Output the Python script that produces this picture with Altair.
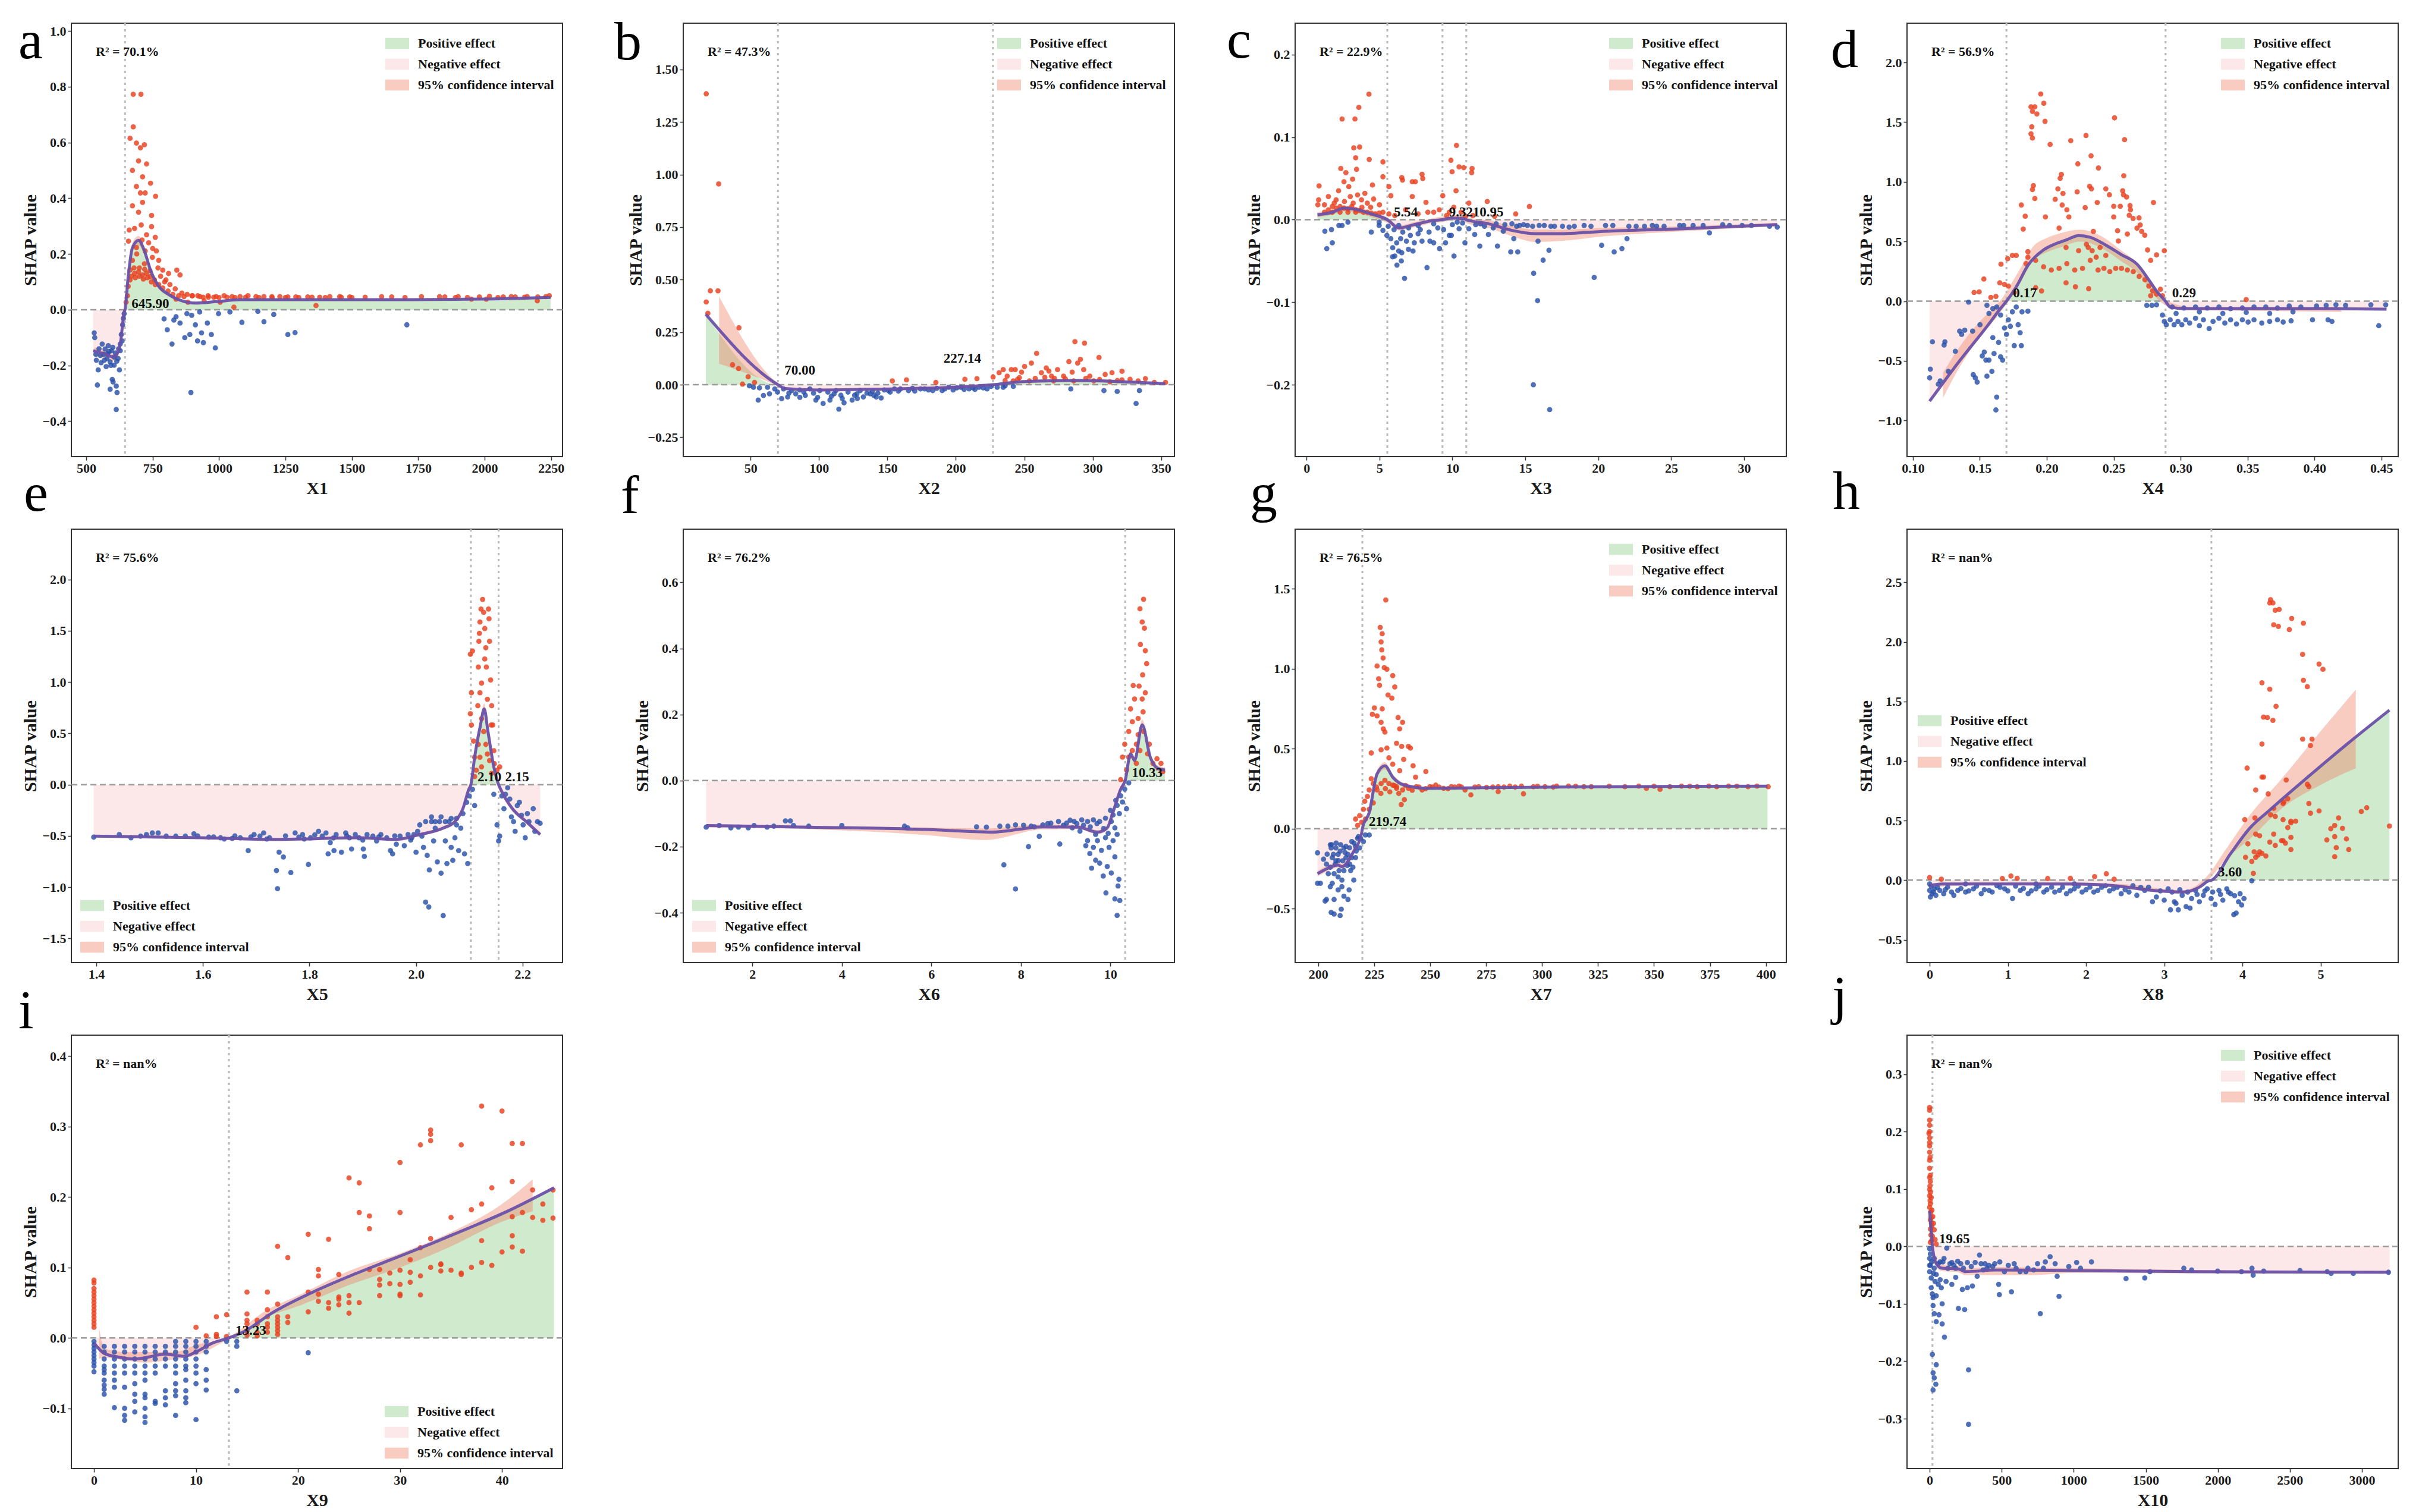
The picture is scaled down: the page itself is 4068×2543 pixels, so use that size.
import altair as alt
import pandas as pd

# ------------------------------------------------------------------ data
A_PTS = [(530,-0.083),(538,-0.181),(542,-0.27),(590,-0.285),(598,-0.25),(613,-0.274),(616,-0.297),(613,-0.358),(601,-0.259),(625,-0.216),(628,-0.147),
(560,-0.123),(571,-0.141),(583,-0.129),(580,-0.158),(595,-0.147),(605,-0.17),(553,-0.164),(568,-0.181),(590,-0.187),(605,-0.199),(620,-0.175),(628,-0.123),(632,-0.089),(637,-0.054),(640,-0.031),(643,-0.014),(635,-0.112),(545,-0.216),(575,-0.204),
(548,-0.14),(556,-0.19),(565,-0.16),(578,-0.175),(586,-0.15),(593,-0.2),(600,-0.135),(610,-0.155),(615,-0.185),(622,-0.14),(532,-0.1),(536,-0.16),
(793,-0.033),(805,-0.072),(823,-0.123),(830,-0.037),(838,-0.025),(853,-0.048),(871,-0.1),(890,-0.089),(894,-0.297),(897,-0.02),(911,-0.054),(919,-0.112),(934,-0.083),(941,-0.118),(956,-0.048),(971,-0.089),(986,-0.137),(998,-0.014),(1041,-0.008),(1086,-0.045),(1146,-0.006),(1169,-0.043),(1206,-0.017),(1259,-0.089),(1286,-0.082),(1707,-0.054),(927,-0.008),(879,-0.014),
(677,0.773),(706,0.773),(677,0.656),(665,0.615),(689,0.598),(704,0.581),(719,0.592),(697,0.534),(674,0.5),(712,0.477),(727,0.523),(689,0.442),(704,0.419),(722,0.419),(742,0.454),(761,0.407),(746,0.338),(674,0.373),(697,0.35),(712,0.385),(662,0.286),(682,0.292),(707,0.304),(727,0.269),(746,0.298),(764,0.211),(659,0.246),(689,0.223),(722,0.211),(749,0.188),(773,0.177),(788,0.142),(810,0.13),(841,0.142),(853,0.125),(800,0.107),(674,0.177),(719,0.165),
(665,0.142),(682,0.13),(697,0.136),(712,0.125),(727,0.13),(742,0.119),(757,0.107),(773,0.09),(788,0.078),(808,0.067),(826,0.055),(848,0.05),(658,0.084),(655,0.05),(650,0.027),(665,0.107),
(670,0.12),(685,0.115),(700,0.12),(715,0.11),(730,0.115),(745,0.1),(760,0.09),(680,0.15),(700,0.15),(720,0.145),(740,0.14),(690,0.2),(710,0.25),(735,0.24),(750,0.22),(760,0.26),(770,0.15),(780,0.12),(795,0.1),(815,0.09),(835,0.075),(860,0.06),(880,0.055),
(868,0.047),(898,0.05),(928,0.047),(959,0.05),(989,0.047),(1019,0.05),(1049,0.047),(1079,0.047),(1109,0.05),(1139,0.047),(1169,0.047),(1199,0.047),(1229,0.047),(1259,0.046),(1289,0.046),(1334,0.046),(1379,0.045),(1417,0.047),(1454,0.047),(1492,0.046),(1612,0.047),(1762,0.047),(1830,0.047),(1890,0.044),(1935,0.044),(1980,0.046),(2018,0.048),(2070,0.046),(2115,0.046),(2160,0.047),(2198,0.032),(2243,0.05),(2006,0.038),(1950,0.038),(1365,0.015),(1056,0.009),(1004,0.027),(944,0.032),(883,0.027),(838,0.038),
(900,0.05),(920,0.05),(940,0.045),(960,0.045),(980,0.045),(1000,0.044),(1030,0.045),(1060,0.044),(1100,0.045),(1150,0.044),(1200,0.043),(1250,0.044),(1300,0.044),(1350,0.045),(1400,0.044),(1460,0.045),(1500,0.044),(1550,0.045),(1650,0.046),(1700,0.044),(1850,0.046),(1900,0.047),(2050,0.044),(2100,0.047),(2150,0.045),(2200,0.046),(2230,0.047)]
A_LX = [526,568,605,628,643,645.9,658,674,697,719,742,773,810,860,911,989,1079,1229,1680,1980,2248]
A_LY = [-0.147,-0.158,-0.17,-0.123,-0.008,0,0.119,0.223,0.249,0.211,0.142,0.084,0.055,0.032,0.024,0.029,0.036,0.036,0.036,0.038,0.044]
A_CX = [530,568,605,628,645.9,658,674,697,719,742,773,810,860,911,989,1079,1229,1680,1980,2248]
A_CLO = [-0.165,-0.175,-0.185,-0.14,-0.01,0.105,0.205,0.23,0.195,0.13,0.075,0.048,0.027,0.02,0.025,0.032,0.033,0.033,0.034,0.039]
A_CHI = [-0.135,-0.145,-0.158,-0.11,0.01,0.13,0.24,0.265,0.225,0.155,0.093,0.062,0.037,0.029,0.033,0.04,0.04,0.04,0.042,0.049]

B_PTS = [(17.6,1.384),(26.7,0.955),(17.6,0.394),(20.6,0.447),(26.2,0.447),(18.8,0.34),(41.5,0.271),(36.8,0.095),(41.2,0.077),(48.2,0.038),(44.1,0.003),(52.9,0.011),
(49.1,-0.005),(52.1,-0.012),(55.6,-0.073),(59.4,-0.051),(63.8,-0.043),(67.7,-0.02),(69.7,-0.035),(72.7,-0.066),(77.1,-0.058),(83,-0.043),(88.9,-0.035),(93.3,-0.02),(97.7,-0.073),(103,-0.089),(108,-0.073),(111,-0.043),(114.5,-0.116),(118.3,-0.086),(124.2,-0.073),(127.7,-0.043),(132.4,-0.058),(137.4,-0.043),(141.8,-0.058),(145.4,-0.063),(150.7,-0.028),(155.1,-0.02),(165.4,-0.028),(174.2,-0.02),(183.1,-0.028),(191.9,-0.02),(200.7,-0.015),(209.6,-0.02),(216.9,-0.012),(222.8,-0.02),(230.2,-0.012),(234.6,-0.012),(284,-0.02),(308.2,-0.028),(317.9,-0.032),(331.7,-0.089),(334.1,-0.028),
(56.5,-0.015),(62.4,-0.012),(74.1,-0.02),(80,-0.028),(85.9,-0.025),(100.6,-0.028),(106.5,-0.035),(112.4,-0.028),(121.2,-0.035),(130.1,-0.028),(138.9,-0.032),(147.7,-0.025),(159.5,-0.02),(168.3,-0.017),(177.2,-0.02),(186,-0.017),(194.8,-0.012),(203.7,-0.012),(212.5,-0.015),(225.7,-0.008),
(90,-0.05),(96,-0.04),(116,-0.05),(126,-0.05),(135,-0.04),(143,-0.04),(152,-0.035),(158,-0.03),(170,-0.03),(180,-0.025),(190,-0.028),(198,-0.025),(206,-0.022),(214,-0.022),(220,-0.015),(78,-0.04),(86,-0.06),(99,-0.06),(109,-0.055),(117,-0.065),(128,-0.065),(140,-0.05),(236,-0.005),(242,-0.008),
(153.6,0.018),(163.9,0.023),(185.4,0.011),(206.6,0.026),(215.4,0.029),(227.2,0.037),(231.6,0.057),(234.6,0.072),(237.5,0.041),(240.5,0.072),(243.4,0.072),(246.4,0.034),(250.2,0.087),(255.2,0.103),(259,0.149),(262.5,0.057),(266.1,0.08),(269.9,0.041),(274.3,0.072),(278.7,0.041),(282.6,0.11),(287,0.205),(289,0.103),(291,0.121),(294,0.198),(293.4,0.072),(297.9,0.041),(304.6,0.13),(309.1,0.049),(314.1,0.057),(321.4,0.064),(327.3,0.026),(333.2,0.018),(338.5,0.029),(353.2,0.011),(241.9,0.018),(253.7,0.018),(271.4,0.018),(286.1,0.018),(300.8,0.018),(312.6,0.014),(321.4,0.023),(345,0.011),
(236,0.02),(245,0.025),(258,0.03),(265,0.035),(272,0.03),(280,0.028),(295,0.03),(305,0.025),(318,0.02),(248,0.06),(268,0.065),(285,0.06)]
B_LX = [17.3,70,75,100,150,200,227.14,250,290,330,353]
B_LY = [0.335,0,-0.018,-0.025,-0.02,-0.012,0,0.015,0.02,0.012,0.005]
B_CX = [27,70,75,100,150,200,227.14,250,290,330,353]
B_CLO = [0.10,-0.008,-0.024,-0.03,-0.025,-0.017,-0.005,0.008,0.012,0.005,0.0]
B_CHI = [0.42,0.008,-0.012,-0.02,-0.015,-0.007,0.005,0.022,0.028,0.02,0.01]

C_PTS = [(0.86,0.041),(0.83,0.024),(0.78,0.018),(2.44,0.122),(3.32,0.122),(3.59,0.136),(4.28,0.152),(3.24,0.087),(3.64,0.088),(3.37,0.075),(4.3,0.073),(2.35,0.062),(2.7,0.057),(3.43,0.061),(2.57,0.046),(3.16,0.049),(5.24,0.07),(5.24,0.052),(4.52,0.042),(5.65,0.04),(5.78,0.029),(6.53,0.051),(6.58,0.048),(7.25,0.046),(7.46,0.046),(7.92,0.055),(7.97,0.05),(7.25,0.028),(8.19,0.021),(9.9,0.072),(9.98,0.058),(10.28,0.09),(10.46,0.064),(10.78,0.063),(11.35,0.062),(11.32,0.057),(10.25,0.035),(9.34,0.029),(11.13,0.02),(12.39,0.022),(14.34,0.007),(15.28,0.016),(12.9,0.004),
(1.5,0.012),(1.77,0.016),(2.03,0.014),(2.3,0.016),(2.57,0.014),(2.84,0.013),(3.1,0.016),(3.37,0.012),(3.64,0.011),(3.9,0.009),(4.17,0.009),(4.44,0.008),(4.71,0.007),(4.98,0.008),(5.24,0.009),(5.65,0.007),(6.05,0.005),(1.23,0.009),(1.77,0.009),(2.3,0.009),(2.84,0.009),(3.37,0.009),(2.03,0.024),(3.0,0.028),(3.77,0.024),(4.17,0.02),(1.5,0.028),(1.23,0.018),(7.65,0.007),(8.32,0.009),(8.72,0.009),(9.79,0.009),(10.6,0.009),(11.4,0.005),
(2.2,0.035),(2.9,0.04),(3.5,0.03),(4.0,0.032),(4.6,0.025),(1.9,0.02),(2.6,0.022),(3.2,0.02),(3.8,0.015),(4.4,0.015),(5.0,0.018),(6.8,0.012),(9.1,0.012),(10.1,0.015),(9.6,0.005),(10.9,0.004),
(1.26,-0.014),(1.39,-0.035),(1.71,-0.012),(1.77,-0.028),(2.22,-0.007),(2.44,-0.007),(2.84,-0.003),(4.44,-0.015),(4.98,-0.007),(5.24,-0.013),(5.51,-0.019),(5.78,-0.023),(5.91,-0.034),(6.05,-0.044),(6.18,-0.028),(6.32,-0.038),(6.45,-0.023),(6.53,-0.04),(6.72,-0.071),(6.85,-0.026),(6.99,-0.036),(7.12,-0.019),(7.39,-0.028),(7.65,-0.017),(7.92,-0.026),(8.26,-0.058),(8.46,-0.026),(8.72,-0.028),(9.12,-0.035),(9.53,-0.028),(9.79,-0.019),(9.93,-0.019),(10.11,-0.044),(10.46,-0.011),(10.86,-0.028),(11.13,-0.011),(11.53,-0.018),(11.88,-0.032),(12.47,-0.018),(13.09,-0.032),(13.49,-0.014),(14.0,-0.039),(14.21,-0.023),(14.48,-0.039),(14.61,-0.007),(15.15,-0.007),(15.57,-0.065),(15.55,-0.2),(15.84,-0.098),(15.87,-0.026),(16.22,-0.049),(16.62,-0.037),(16.67,-0.23),(15.95,-0.007),(16.75,-0.008),(17.55,-0.008),(18.36,-0.008),(19.03,-0.007),(19.72,-0.07),(20.23,-0.031),(20.5,-0.007),(21.09,-0.039),(21.62,-0.035),(21.97,-0.023),(22.1,-0.008),(23.17,-0.008),(24.51,-0.008),(25.85,-0.007),(27.19,-0.007),(27.62,-0.016),(28.53,-0.006),(29.86,-0.007),(31.74,-0.008),(32.27,-0.009),(25.58,-0.007),(23.71,-0.007),
(4.98,-0.003),(6.32,-0.007),(7.65,-0.007),(8.72,-0.005),(10.33,-0.003),(11.93,-0.005),(13.0,-0.005),(14.08,-0.005),(14.88,-0.006),
(5.6,-0.008),(6.0,-0.012),(6.6,-0.015),(7.0,-0.01),(7.8,-0.012),(8.4,-0.015),(9.0,-0.01),(9.4,-0.012),(10.0,-0.006),(10.7,-0.004),(11.6,-0.006),(12.2,-0.008),(12.8,-0.01),(13.6,-0.006),(14.4,-0.008),(15.5,-0.008),(16.3,-0.007),(17.0,-0.008),(18.0,-0.009),(19.5,-0.008),(21.0,-0.007),(22.6,-0.008),(24.0,-0.008),(26.5,-0.007),(29.0,-0.007),(30.5,-0.007),(6.2,-0.055),(6.5,-0.05),(7.3,-0.038),(5.9,-0.045)]
C_LX = [0.75,1.77,2.57,3.5,4.44,5.54,6.32,7.39,8.72,9.32,9.93,10.86,10.95,12.47,14.08,15.68,17.29,20.5,25.85,32.27]
C_LY = [0.006,0.009,0.014,0.012,0.007,0,-0.01,-0.006,-0.001,0,0.002,0.001,0,-0.005,-0.013,-0.017,-0.017,-0.014,-0.011,-0.006]
C_CX = C_LX
C_CLO = [0.003,0.006,0.01,0.008,0.003,-0.004,-0.013,-0.009,-0.004,-0.003,-0.001,-0.003,-0.004,-0.01,-0.02,-0.027,-0.026,-0.02,-0.014,-0.008]
C_CHI = [0.009,0.012,0.017,0.015,0.01,0.003,-0.007,-0.003,0.002,0.004,0.006,0.005,0.003,-0.001,-0.008,-0.012,-0.012,-0.01,-0.008,-0.004]

D_PTS = [(0.113,-0.569),(0.1125,-0.642),(0.1146,-0.34),(0.119,-0.695),(0.1204,-0.668),(0.1233,-0.367),(0.1239,-0.34),(0.1265,-0.588),(0.1317,-0.42),(0.1349,-0.251),(0.1364,-0.278),(0.1387,-0.243),(0.1416,-0.008),(0.1446,-0.251),(0.1451,-0.615),(0.1466,-0.642),(0.148,-0.677),(0.1501,-0.197),(0.1518,-0.458),(0.1533,-0.426),(0.1545,-0.493),(0.1553,-0.628),(0.1568,-0.493),(0.159,-0.588),(0.1597,-0.305),(0.1606,-0.439),(0.162,-0.911),(0.1626,-0.803),(0.164,-0.345),(0.1655,-0.466),(0.167,-0.493),(0.1684,-0.224),(0.1699,-0.278),(0.1713,-0.156),(0.1728,-0.21),(0.1743,-0.089),(0.1757,-0.372),(0.1772,-0.049),(0.1786,-0.197),(0.1801,-0.264),(0.181,-0.372),(0.1815,-0.089),(0.1859,-0.084),(0.1553,-0.035),(0.1568,-0.102),(0.1626,-0.049),(0.1655,-0.116),(0.1597,-0.062),
(0.1457,0.073),(0.1495,0.078),(0.153,0.186),(0.1582,0.032),(0.162,0.04),(0.1649,0.154),(0.1658,0.31),(0.1708,0.356),(0.1743,0.383),(0.1772,0.383),(0.1824,0.604),(0.1839,0.712),(0.181,0.806),(0.1684,0.14),(0.1713,0.127),(0.1757,0.073),(0.1859,0.415),(0.1845,0.315),
(0.1955,1.736),(0.1978,1.658),(0.1882,1.628),(0.1911,1.628),(0.1893,1.59),(0.1926,1.569),(0.1987,1.507),(0.1888,1.461),(0.1882,1.402),(0.1893,1.367),(0.2025,1.313),(0.2506,1.536),(0.2581,1.353),(0.2179,1.345),(0.2293,1.388),(0.2331,1.218),(0.2386,1.116),(0.2232,1.151),(0.2109,1.062),(0.21,1.03),(0.19,0.968),(0.1893,0.935),(0.1911,0.86),(0.2083,0.941),(0.2121,0.903),(0.2227,0.916),(0.232,0.962),(0.2334,0.941),(0.2441,0.941),(0.2468,0.892),(0.2567,0.925),(0.2573,0.892),(0.2596,0.873),(0.2575,1.051),(0.2063,0.854),(0.2115,0.806),(0.215,0.766),(0.2165,0.706),(0.2287,0.784),(0.2377,0.827),(0.25,0.795),(0.25,0.706),(0.2549,0.795),(0.2622,0.801),(0.2625,0.766),(0.2616,0.72),(0.2797,0.827),(0.199,0.706),(0.2092,0.612),(0.2348,0.585),(0.2529,0.59),(0.2645,0.693),(0.2689,0.698),(0.2698,0.639),(0.2709,0.585),(0.2602,0.563),(0.2732,0.553),(0.2674,0.612),(0.2535,0.504),(0.2753,0.429),(0.2878,0.423),(0.282,0.388),(0.2776,0.342),
(0.1859,0.369),(0.1917,0.342),(0.1976,0.288),(0.2034,0.261),(0.2092,0.275),(0.215,0.315),(0.2209,0.261),(0.2267,0.275),(0.2325,0.342),(0.2369,0.369),(0.2383,0.261),(0.2427,0.275),(0.2471,0.248),(0.2515,0.275),(0.2558,0.275),(0.2602,0.261),(0.2646,0.248),(0.269,0.208),(0.2733,0.181),(0.2762,0.127),(0.2791,0.086),(0.282,0.059),(0.2849,0.1),(0.2864,0.046),(0.2776,0.046),(0.2144,0.154),(0.2214,0.121),(0.2313,0.105),(0.1917,0.113),(0.1961,0.086),(0.231,0.45),(0.2339,0.423),(0.2398,0.45),(0.2441,0.383),(0.2238,0.423),(0.2296,0.477),(0.2144,0.45),
(0.2747,-0.035),(0.2785,-0.035),(0.282,-0.03),(0.2864,-0.116),(0.2878,-0.17),(0.2893,-0.197),(0.2922,-0.156),(0.2951,-0.197),(0.298,-0.17),(0.3009,-0.197),(0.3038,-0.156),(0.3067,-0.183),(0.3111,-0.143),(0.314,-0.205),(0.317,-0.156),(0.3213,-0.229),(0.3242,-0.17),(0.3286,-0.143),(0.333,-0.183),(0.3373,-0.156),(0.3417,-0.191),(0.3461,-0.156),(0.3504,-0.175),(0.3548,-0.156),(0.3606,-0.183),(0.3665,-0.17),(0.3723,-0.156),(0.3766,-0.175),(0.3825,-0.164),(0.3985,-0.156),(0.4101,-0.156),(0.413,-0.17),(0.448,-0.205),
(0.2937,-0.049),(0.3024,-0.057),(0.3111,-0.049),(0.3199,-0.057),(0.3286,-0.049),(0.3373,-0.062),(0.3461,-0.057),(0.3548,-0.049),(0.3636,-0.049),(0.3723,-0.057),(0.3811,-0.04),(0.3898,-0.049),(0.4015,-0.04),(0.4087,-0.035),(0.416,-0.03),(0.4232,-0.035),(0.4421,-0.03),(0.4532,-0.03),(0.314,-0.089),(0.3315,-0.102),(0.349,-0.094),(0.3665,-0.102),(0.3839,-0.089),(0.2966,-0.102),(0.349,0.013)]
D_LX = [0.1125,0.1335,0.1568,0.1655,0.1699,0.1772,0.1859,0.1976,0.2063,0.215,0.2238,0.2325,0.2441,0.2558,0.2674,0.2762,0.282,0.2887,0.2922,0.3024,0.3432,0.4014,0.4538]
D_LY = [-0.838,-0.52,-0.19,-0.06,0,0.12,0.3,0.43,0.48,0.515,0.55,0.535,0.47,0.39,0.31,0.18,0.085,0,-0.049,-0.062,-0.062,-0.062,-0.067]
D_CX = [0.1225,0.135,0.15,0.165,0.18,0.19,0.2,0.21,0.225,0.24,0.255,0.27,0.28,0.29,0.31,0.35,0.42]
D_CLO = [-0.81,-0.55,-0.30,-0.10,0.15,0.34,0.41,0.45,0.50,0.45,0.34,0.21,0.05,-0.04,-0.075,-0.08,-0.09]
D_CHI = [-0.60,-0.38,-0.17,0.0,0.27,0.46,0.53,0.57,0.60,0.55,0.43,0.29,0.12,0.0,-0.05,-0.05,-0.05]

E_PTS = [(1.395,-0.512),(1.443,-0.487),(1.465,-0.518),(1.483,-0.502),(1.494,-0.487),(1.505,-0.471),(1.516,-0.471),(1.531,-0.502),(1.549,-0.502),(1.567,-0.502),(1.583,-0.48),(1.611,-0.512),(1.633,-0.518),(1.655,-0.524),(1.67,-0.518),(1.685,-0.643),(1.696,-0.487),(1.707,-0.502),(1.714,-0.471),(1.725,-0.518),(1.738,-0.838),(1.74,-1.014),(1.743,-0.659),(1.751,-0.706),(1.765,-0.857),(1.773,-0.471),(1.78,-0.512),(1.787,-0.487),(1.798,-0.778),(1.802,-0.518),(1.817,-0.455),(1.824,-0.502),(1.831,-0.471),(1.835,-0.675),(1.839,-0.565),(1.846,-0.643),(1.85,-0.487),(1.86,-0.659),(1.868,-0.471),(1.875,-0.518),(1.879,-0.628),(1.886,-0.487),(1.893,-0.518),(1.901,-0.628),(1.903,-0.7),(1.908,-0.487),(1.919,-0.502),(1.926,-0.549),(1.934,-0.487),(1.945,-0.518),(1.952,-0.643),(1.956,-0.675),(1.963,-0.581),(1.97,-0.502),(1.978,-0.596),(1.985,-0.487),(1.992,-0.518),(2.0,-0.659),(2.003,-0.455),(2.011,-0.502),(2.014,-0.612),(2.018,-1.146),(2.024,-1.193),(2.021,-0.69),(2.025,-0.832),(2.029,-0.361),(2.033,-0.549),(2.036,-0.424),(2.04,-0.753),(2.044,-0.361),(2.047,-0.863),(2.051,-1.277),(2.055,-0.549),(2.058,-0.769),(2.062,-0.361),(2.066,-0.612),(2.069,-0.738),(2.073,-0.518),(2.076,-0.33),(2.08,-0.643),(2.084,-0.424),(2.088,-0.282),(2.091,-0.675),(2.095,-0.173),(2.097,-0.769),(2.1,-0.11),(2.106,-0.047),(2.11,-0.204),(2.018,-0.361),(2.029,-0.314),(2.036,-0.361),(2.047,-0.314),(2.055,-0.361),(2.066,-0.33),(2.076,-0.392),(2.007,-0.392),(1.996,-0.487),
(1.59,-0.5),(1.62,-0.51),(1.64,-0.53),(1.66,-0.5),(1.69,-0.51),(1.72,-0.53),(1.755,-0.5),(1.79,-0.53),(1.81,-0.49),(1.845,-0.52),(1.87,-0.5),(1.9,-0.54),(1.93,-0.51),(1.96,-0.5),(1.99,-0.54),
(2.146,-0.094),(2.152,-0.392),(2.155,-0.549),(2.157,-0.502),(2.161,-0.11),(2.168,-0.094),(2.176,-0.141),(2.179,-0.314),(2.183,-0.361),(2.186,-0.455),(2.19,-0.204),(2.194,-0.173),(2.198,-0.298),(2.201,-0.392),(2.205,-0.518),(2.209,-0.282),(2.212,-0.361),(2.22,-0.235),(2.223,-0.455),(2.228,-0.361),(2.233,-0.377),(2.165,-0.235),(2.172,-0.031),
(2.102,1.271),(2.106,1.303),(2.104,0.895),(2.102,0.691),(2.104,0.581),(2.108,0.424),(2.11,0.267),(2.113,0.141),(2.117,1.146),(2.118,1.397),(2.12,1.585),(2.122,1.711),(2.123,0.989),(2.125,1.805),(2.127,1.679),(2.129,1.522),(2.131,1.334),(2.132,1.146),(2.134,0.832),(2.137,1.617),(2.138,1.397),(2.14,1.02),(2.142,0.769),(2.144,0.581),(2.146,0.33),(2.147,0.204),(2.152,0.141),(2.157,0.173),(2.12,0.895),(2.123,0.643),(2.127,0.518),(2.131,0.392),(2.134,0.298),(2.138,0.235),(2.117,0.392),(2.12,0.267),(2.123,0.173),(2.11,0.078),(2.142,0.11),(2.129,1.224),(2.119,1.475),(2.136,1.711),(2.116,0.769),(2.141,0.581)]
E_LX = [1.395,1.597,1.743,1.89,1.963,2.007,2.051,2.073,2.088,2.099,2.103,2.11,2.121,2.128,2.135,2.146,2.155,2.159,2.181,2.207,2.233]
E_LY = [-0.502,-0.518,-0.534,-0.518,-0.534,-0.487,-0.424,-0.361,-0.235,-0.047,0,0.267,0.581,0.738,0.518,0.173,0,-0.047,-0.235,-0.361,-0.487]
E_CX = E_LX
E_CLO = [-0.51,-0.53,-0.55,-0.53,-0.55,-0.5,-0.44,-0.38,-0.26,-0.08,-0.03,0.22,0.52,0.68,0.47,0.13,-0.03,-0.08,-0.26,-0.38,-0.5]
E_CHI = [-0.49,-0.505,-0.52,-0.505,-0.52,-0.47,-0.405,-0.34,-0.21,-0.02,0.03,0.31,0.64,0.79,0.57,0.22,0.03,-0.02,-0.21,-0.34,-0.47]

F_PTS = [(0.97,-0.141),(1.26,-0.136),(1.52,-0.143),(1.69,-0.141),(1.91,-0.143),(2.04,-0.136),(2.33,-0.141),(2.48,-0.138),(2.74,-0.122),(2.85,-0.122),(2.92,-0.136),(3.26,-0.138),(4.0,-0.136),(5.4,-0.138),(5.47,-0.143),(7.01,-0.14),(7.23,-0.141),(7.62,-0.255),(7.88,-0.328),(8.17,-0.2),(8.41,-0.169),(8.87,-0.192),(7.53,-0.138),(7.71,-0.138),(7.88,-0.134),(8.06,-0.135),(8.23,-0.138),(8.49,-0.134),(8.67,-0.129),(8.84,-0.124),(9.02,-0.129),(9.19,-0.124),(9.36,-0.119),(9.49,-0.124),(9.62,-0.119),(9.76,-0.124),(9.89,-0.114),(9.15,-0.143),(9.32,-0.153),(9.49,-0.182),(9.54,-0.221),(9.58,-0.265),(9.62,-0.202),(9.67,-0.241),(9.71,-0.182),(9.76,-0.25),(9.8,-0.211),(9.84,-0.289),(9.89,-0.173),(9.9,-0.34),(9.93,-0.26),(9.97,-0.202),(10.02,-0.28),(10.06,-0.182),(10.1,-0.358),(10.15,-0.408),(10.17,-0.319),(10.19,-0.299),(10.21,-0.363),(10.1,-0.231),(10.15,-0.163),(10.06,-0.104),(10.15,-0.075),(10.23,-0.046),(10.27,-0.065),(10.32,-0.026),(10.36,-0.085),(10.41,-0.007),(10.02,-0.124),(10.1,-0.143),(9.45,-0.197),(9.67,-0.163),
(8.3,-0.14),(8.6,-0.13),(8.95,-0.135),(9.1,-0.12),(9.25,-0.13),(9.4,-0.135),(9.55,-0.14),(9.7,-0.13),(9.85,-0.145),(9.95,-0.16),(10.0,-0.09),(10.12,-0.06),(10.2,-0.1),
(10.23,0.003),(10.27,0.071),(10.32,0.11),(10.36,0.032),(10.41,0.149),(10.45,0.217),(10.49,0.178),(10.51,0.288),(10.54,0.247),(10.58,0.11),(10.62,0.188),(10.64,0.286),(10.66,0.52),(10.67,0.412),(10.71,0.48),(10.72,0.32),(10.74,0.549),(10.76,0.461),(10.78,0.393),(10.81,0.354),(10.71,0.247),(10.73,0.208),(10.74,0.149),(10.78,0.266),(10.83,0.081),(10.87,0.11),(10.95,0.052),(11.04,0.066),(11.13,0.052),(11.17,0.027),(10.58,0.052),(10.66,0.091),(10.49,0.091),(10.41,0.071),(10.62,0.139)]
F_LX = [0.97,3.26,5.88,7.36,8.49,9.28,9.71,9.93,10.06,10.23,10.33,10.45,10.54,10.71,10.89,11.06,11.22]
F_LY = [-0.136,-0.141,-0.148,-0.156,-0.14,-0.141,-0.156,-0.143,-0.095,-0.026,0,0.081,0.061,0.169,0.071,0.037,0.032]
F_CX = [0.97,3.26,5.88,7.2,8.49,9.28,9.71,9.93,10.06,10.23,10.33,10.45,10.54,10.71,10.89,11.06,11.22]
F_CLO = [-0.142,-0.147,-0.165,-0.18,-0.148,-0.147,-0.162,-0.15,-0.103,-0.034,-0.008,0.07,0.05,0.15,0.06,0.028,0.024]
F_CHI = [-0.132,-0.137,-0.142,-0.145,-0.133,-0.135,-0.15,-0.136,-0.087,-0.018,0.008,0.092,0.072,0.185,0.082,0.046,0.04]

G_PTS = [(199.7,-0.151),(199.7,-0.342),(201,-0.342),(202.4,-0.191),(203.1,-0.453),(203.7,-0.443),(205.4,-0.101),(206.3,-0.181),(205.8,-0.524),(207.1,-0.534),(207.1,-0.443),(207.9,-0.121),(208.9,-0.161),(209.8,-0.544),(210.3,-0.504),(210.6,-0.363),(211.5,-0.262),(212.4,-0.111),(213.3,-0.443),(213.8,-0.383),(214.1,-0.222),(215,-0.081),(215.9,-0.322),(216.7,-0.181),(217.6,-0.06),(218.5,-0.121),(220.2,-0.081),(221.1,-0.04),(222.8,-0.04),(205.4,-0.242),(207.1,-0.282),(208.9,-0.302),(210.6,-0.322),(203.7,-0.222),(206.3,-0.342),(207.9,-0.201),(209.8,-0.141),(211.5,-0.121),(213.3,-0.161),(215,-0.181),(216.7,-0.111),(205.8,-0.121),(206.8,-0.161),(207.6,-0.222),(209.3,-0.262),(211,-0.201),(212.4,-0.181),(204.5,-0.282),(205.4,-0.363),(208.9,-0.383),(211.5,-0.423),(214.5,-0.262),(215.5,-0.242),
(206,-0.1),(208,-0.09),(210,-0.1),(212,-0.15),(214,-0.12),(216,-0.09),(218,-0.05),(204,-0.16),(209,-0.2),(213,-0.23),(217,-0.14),(219,-0.06),
(230.2,1.43),(227.7,1.259),(228.6,1.219),(228.1,1.168),(228.4,1.118),(229,1.067),(226.3,1.017),(229.5,1.007),(230.7,0.997),(233.3,0.957),(227,0.937),(227.4,0.896),(234.2,0.886),(231.2,0.836),(232.9,0.816),(225.1,0.755),(228.6,0.749),(226.3,0.705),(235.7,0.695),(237.7,0.665),(224.2,0.715),(228.1,0.665),(229.1,0.624),(229.8,0.604),(236.4,0.624),(235,0.534),(237.3,0.514),(240.3,0.514),(241.2,0.504),(230.7,0.504),(228.1,0.493),(223.7,0.473),(231.6,0.443),(238.2,0.433),(242.4,0.393),(243.5,0.322),(248.1,0.357),(236.4,0.363),(233.3,0.403),(235,0.262),(237.1,0.151),(238.5,0.181),(223.7,0.312),(224.6,0.282),(222.8,0.242),(220.8,0.171),(220.2,0.121),(222,0.201),(219.4,0.04),(216.7,0.06),(217.6,0.02),(218.5,0.081),(221.1,0.06),(222.8,0.121),(224.6,0.161),(226.3,0.242),(228.1,0.282),(229.8,0.302),(231.6,0.282),(233.3,0.272),(235,0.252),(237.7,0.242),(240.3,0.252),(243.8,0.262),(246.4,0.242),(249.9,0.262),(252.5,0.272),(256,0.252),(259.5,0.262),(262.9,0.266),(265.6,0.242),(268.2,0.211),(271.7,0.262),(275.2,0.258),(280.4,0.262),(280.4,0.232),(285.6,0.266),(291.7,0.218),(290.8,0.266),(296.1,0.262),(301.3,0.262),(306.5,0.266),(311.8,0.266),(318.7,0.262),(343.2,0.266),(346.6,0.252),(352.7,0.246),(357.1,0.262),(362.3,0.266),(369.3,0.262),(374.5,0.266),(383.3,0.266),(392,0.262),(401,0.262),
(226,0.26),(228,0.22),(230,0.25),(232,0.23),(234,0.27),(236,0.22),(239,0.27),(242,0.24),(245,0.26),(248,0.25),(251,0.26),(254,0.26),(258,0.25),(261,0.26),(264,0.26),(270,0.26),(278,0.26),(283,0.26),(288,0.26),(298,0.265),(305,0.26),(315,0.265),(322,0.262),(330,0.265),(337,0.262),(350,0.265),(366,0.265),(378,0.262),(387,0.265),(396,0.266)]
G_LX = [199.7,203.7,208.9,210.6,215.9,219.4,219.74,222.8,226.3,229.8,233.3,238.5,249,273.4,325.7,400.7]
G_LY = [-0.282,-0.252,-0.228,-0.238,-0.141,-0.03,0,0.101,0.342,0.393,0.322,0.272,0.252,0.256,0.262,0.266]
G_CX = G_LX
G_CLO = [-0.3,-0.27,-0.245,-0.255,-0.155,-0.045,-0.012,0.085,0.32,0.37,0.305,0.26,0.245,0.25,0.256,0.26]
G_CHI = [-0.265,-0.235,-0.21,-0.22,-0.127,-0.015,0.012,0.115,0.365,0.415,0.34,0.285,0.26,0.262,0.268,0.272]

H_PTS = [(0,-0.032),(0,-0.086),(0.01,-0.141),(0.03,-0.114),(0.06,-0.073),(0.08,-0.127),(0.13,-0.086),(0.18,-0.114),(0.23,-0.059),(0.31,-0.127),(0.36,-0.086),(0.46,-0.1),(0.56,-0.073),(0.66,-0.114),(0.76,-0.086),(0.86,-0.046),(0.96,-0.073),(1.06,-0.154),(1.16,-0.086),(1.26,-0.114),(1.36,-0.073),(1.46,-0.1),(1.56,-0.059),(1.66,-0.086),(1.75,-0.114),(1.85,-0.073),(1.95,-0.1),(2.05,-0.059),(2.15,-0.086),(2.25,-0.046),(2.35,-0.073),(2.45,-0.114),(2.55,-0.1),(2.65,-0.127),(2.75,-0.086),(2.85,-0.181),(2.9,-0.141),(3.0,-0.168),(3.08,-0.249),(3.13,-0.181),(3.15,-0.195),(3.18,-0.249),(3.23,-0.127),(3.28,-0.222),(3.33,-0.235),(3.35,-0.154),(3.4,-0.086),(3.45,-0.181),(3.5,-0.127),(3.55,-0.073),(3.6,-0.154),(3.65,-0.203),(3.7,-0.086),(3.75,-0.168),(3.8,-0.073),(3.85,-0.114),(3.89,-0.289),(3.92,-0.276),(3.95,-0.181),(3.97,-0.114),(3.99,-0.208),(4.02,-0.154),(4.12,-0.005),(0.46,-0.032),(1.36,-0.032),(1.85,-0.032),(2.6,-0.046),(2.8,-0.059),(3.05,-0.073),
(0.02,-0.05),(0.05,-0.1),(0.1,-0.06),(0.2,-0.08),(0.28,-0.1),(0.4,-0.07),(0.5,-0.09),(0.6,-0.05),(0.7,-0.08),(0.8,-0.1),(0.9,-0.06),(1.0,-0.09),(1.1,-0.05),(1.2,-0.07),(1.3,-0.09),(1.4,-0.05),(1.5,-0.08),(1.6,-0.1),(1.7,-0.06),(1.8,-0.09),(1.9,-0.05),(2.0,-0.08),(2.1,-0.1),(2.2,-0.06),(2.3,-0.09),(2.4,-0.06),(2.5,-0.08),(2.7,-0.06),(2.95,-0.09),(3.1,-0.1),(3.2,-0.08),(3.3,-0.1),(3.42,-0.12),(3.52,-0.09),(3.62,-0.1),(3.72,-0.12),(3.82,-0.1),(3.9,-0.13),
(0,0.022),(0.15,0.008),(0.93,0.014),(1.04,0.035),(1.12,0.016),(1.51,0.014),(1.8,0.016),(2.11,0.03),(2.26,0.054),(2.36,0.008),
(4.36,2.354),(4.35,2.327),(4.39,2.327),(4.42,2.265),(4.47,2.273),(4.4,2.143),(4.46,2.13),(4.63,2.197),(4.6,2.103),(4.78,2.157),(4.77,1.895),(4.98,1.814),(5.03,1.77),(4.78,1.678),(4.83,1.624),(4.25,1.657),(4.35,1.603),(4.43,1.459),(4.27,1.368),(4.32,1.365),(4.39,1.341),(4.77,1.184),(4.89,1.184),(4.87,1.13),(4.25,1.143),(4.06,0.941),(4.25,0.865),(4.27,0.865),(4.17,0.757),(4.33,0.724),(4.56,0.841),(4.83,0.805),(4.85,0.786),(4.03,0.508),(4.16,0.522),(4.4,0.603),(4.53,0.657),(4.52,0.643),(4.58,0.684),(4.36,0.549),(4.42,0.535),(4.52,0.508),(4.62,0.495),(4.68,0.495),(4.62,0.481),(4.58,0.441),(4.85,0.643),(4.87,0.562),(4.98,0.581),(4.17,0.386),(4.22,0.373),(4.4,0.386),(4.52,0.332),(4.62,0.359),(4.07,0.305),(4.35,0.319),(4.42,0.292),(4.5,0.332),(4.55,0.311),(4.62,0.257),(4.15,0.238),(4.22,0.238),(4.2,0.211),(4.25,0.224),(4.04,0.192),(4.17,0.192),(4.3,0.203),(4.12,0.157),(4.14,0.057),(5.08,0.338),(5.13,0.432),(5.18,0.459),(5.23,0.522),(5.18,0.365),(5.28,0.435),(5.33,0.346),(5.36,0.257),(5.2,0.273),(5.18,0.197),(5.52,0.576),(5.59,0.608),(5.88,0.454)]
H_LX = [0,0.16,0.86,1.85,2.35,2.85,3.25,3.45,3.57,3.604,3.85,4.1,4.35,4.85,5.34,5.88]
H_LY = [-0.046,-0.032,-0.032,-0.032,-0.046,-0.086,-0.1,-0.059,-0.005,0,0.224,0.441,0.589,0.873,1.143,1.427]
H_CX = [0,0.5,1.5,2.5,3.0,3.25,3.5,3.8,4.1,4.5,5.0,5.45]
H_CLO = [-0.06,-0.045,-0.045,-0.06,-0.1,-0.115,-0.04,0.18,0.35,0.6,0.8,0.94]
H_CHI = [-0.03,-0.02,-0.02,-0.035,-0.075,-0.085,0.0,0.27,0.55,0.85,1.25,1.6]

I_COLS = {0: [-0.005,-0.01,-0.015,-0.02,-0.025,-0.03,-0.035,-0.04,-0.048,0.015,0.02,0.025,0.03,0.035,0.04,0.045,0.05,0.055,0.06,0.065,0.07,0.078,0.082],
1: [-0.012,-0.02,-0.03,-0.04,-0.045,-0.05,-0.06,-0.067,-0.073,-0.08],
2: [-0.012,-0.02,-0.03,-0.04,-0.05,-0.06,-0.07,-0.099],
3: [-0.012,-0.02,-0.03,-0.04,-0.05,-0.07,-0.1,-0.11,-0.117],
4: [-0.012,-0.02,-0.03,-0.04,-0.05,-0.065,-0.08,-0.09,-0.105],
5: [-0.012,-0.02,-0.03,-0.04,-0.05,-0.06,-0.08,-0.085,-0.1,-0.112,-0.12],
6: [-0.012,-0.02,-0.03,-0.04,-0.05,-0.09,-0.093],
7: [-0.012,-0.02,-0.03,-0.04,-0.075,-0.085,-0.095],
8: [-0.005,-0.012,-0.02,-0.03,-0.04,-0.05,-0.065,-0.075,-0.082,-0.11],
9: [-0.005,-0.012,-0.02,-0.03,-0.04,-0.045,-0.06,-0.075,-0.085,-0.092],
10: [-0.005,-0.012,-0.02,-0.03,-0.04,-0.05,-0.065,-0.116,0.015],
11: [-0.005,-0.012,-0.02,-0.045,-0.06,-0.074,0.003],
12: [0.002,0.005,0.03], 13: [-0.005,0.033,0.002], 14: [-0.005,-0.012,-0.075],
15: [0.004,0.01,0.02,0.025,0.034,0.065], 16: [0.003,0.008,0.02,0.025],
17: [0.008,0.015,0.02,0.03,0.04,0.065], 18: [0.005,0.01,0.015,0.02,0.025,0.03,0.048,0.13],
19: [0.022,0.03,0.114], 21: [-0.021,0.037,0.065,0.147], 22: [0.052,0.062,0.088,0.097],
23: [0.042,0.05,0.14], 24: [0.047,0.055,0.058,0.09], 25: [0.035,0.05,0.06,0.227],
26: [0.05,0.178,0.22], 27: [0.097,0.155,0.173], 28: [0.06,0.075,0.083,0.097], 29: [0.077,0.092],
30: [0.06,0.062,0.076,0.096,0.178,0.249], 31: [0.079,0.093,0.111], 32: [0.061,0.088,0.128,0.274],
33: [0.1,0.141,0.28,0.289,0.295], 34: [0.095,0.104,0.105], 35: [0.096,0.171], 36: [0.09,0.092,0.274],
37: [0.1,0.182], 38: [0.107,0.138,0.19,0.329], 39: [0.103,0.213], 40: [0.122,0.322],
41: [0.129,0.145,0.172,0.222,0.276], 42: [0.123,0.178,0.276], 43: [0.171,0.21], 44: [0.167,0.19], 45: [0.17,0.21]}
I_LX = [0.04,1,2.33,4.05,5.39,6.92,8.83,9.98,11.51,13.23,14.57,17.63,21.45,25.28,29.1,32.93,36.75,40.57,45.09]
I_LY = [-0.008,-0.022,-0.027,-0.03,-0.027,-0.023,-0.026,-0.02,-0.008,0,0.008,0.037,0.065,0.089,0.111,0.133,0.156,0.18,0.213]
I_CX = [0.5,1,3,5,8,10,13,17,20,25,30,35,40,43]
I_CLO = [-0.03,-0.028,-0.032,-0.035,-0.03,-0.025,-0.003,0.03,0.045,0.075,0.1,0.13,0.165,0.18]
I_CHI = [0.015,-0.015,-0.02,-0.02,-0.02,-0.01,0.0,0.04,0.06,0.095,0.12,0.15,0.19,0.225]

J_PTS = [(0,0.242),(0,0.237),(0,0.22),(0,0.211),(-5,0.197),(0,0.189),(0,0.181),(0,0.164),(0,0.15),(0,0.136),(5,0.124),(5,0.113),(0,0.099),(5,0.094),(11,0.085),(5,0.074),(16,0.063),(22,0.052),(27,0.04),(32,0.029),(19,0.018),(5,0.007),(0,0.068),(5,0.046),(14,0.035),(38,0.012),(46,0.004),(0,0.2),(0,0.175),(3,0.155),(0,0.12),(2,0.105),(0,0.088),(3,0.08),(8,0.06),(10,0.05),(12,0.04),(6,0.03),(9,0.02),(14,0.01),
(0,-0.004),(0,-0.021),(0,-0.044),(11,-0.072),(19,-0.083),(24,-0.103),(32,-0.117),(46,-0.131),(65,-0.119),(87,-0.135),(103,-0.158),(19,-0.188),(24,-0.22),(32,-0.229),(24,-0.25),(46,-0.206),(43,-0.24),(270,-0.215),(270,-0.31),(87,-0.1),(60,-0.066),(46,-0.049),(32,-0.038),(73,-0.027),(100,-0.021),(119,-0.003),(141,-0.03),(168,-0.033),(195,-0.026),(200,-0.108),(243,-0.11),(227,-0.075),(262,-0.072),(297,-0.069),(330,-0.052),(346,-0.015),(371,-0.041),(384,-0.03),(411,-0.033),(438,-0.035),(479,-0.066),(484,-0.084),(487,-0.027),(519,-0.044),(568,-0.079),(587,-0.03),(628,-0.044),(682,-0.038),(749,-0.03),(768,-0.117),(803,-0.027),(836,-0.018),(871,-0.03),(885,-0.052),(898,-0.087),(966,-0.035),(1020,-0.028),(1047,-0.038),(1123,-0.027),(1363,-0.056),(1493,-0.055),(1529,-0.044),(1764,-0.038),(1818,-0.041),(1999,-0.043),(2164,-0.044),(2237,-0.038),(2245,-0.05),(2318,-0.043),(2570,-0.042),(2759,-0.044),(2786,-0.047),(2940,-0.047),(3184,-0.045),
(32,-0.021),(60,-0.03),(92,-0.027),(127,-0.038),(154,-0.028),(181,-0.038),(216,-0.03),(235,-0.038),(262,-0.028),(289,-0.035),(316,-0.028),(357,-0.03),(398,-0.038),(452,-0.03),(546,-0.033),(600,-0.038),(668,-0.044),(722,-0.041),(790,-0.038),(5,-0.033),(11,-0.055),(0,-0.033),(5,-0.013),(14,-0.027),(27,-0.047),(38,-0.061),(73,-0.058),(114,-0.061),(154,-0.066),(181,-0.054),(81,-0.072),(46,-0.086),(24,-0.089)]
J_LX = [0,10,19.65,46,87,195,249,465,1006,1818,3192]
J_LY = [0.062,0.03,0,-0.03,-0.038,-0.039,-0.044,-0.041,-0.042,-0.044,-0.045]
J_CX = [0,10,19.65,46,87,195,249,465,700,1006,1818,3192]
J_CLO = [0.05,0.02,-0.008,-0.036,-0.043,-0.045,-0.05,-0.05,-0.05,-0.046,-0.047,-0.047]
J_CHI = [0.07,0.04,0.008,-0.025,-0.033,-0.034,-0.039,-0.036,-0.037,-0.038,-0.041,-0.043]

LETTERS = ["a","b","c","d","e","f","g","h","i","j"]
R2_TEXT = ["R² = 70.1%","R² = 47.3%","R² = 22.9%","R² = 56.9%","R² = 75.6%","R² = 76.2%","R² = 76.5%","R² = nan%","R² = nan%","R² = nan%"]
X_TITLES = ["X1","X2","X3","X4","X5","X6","X7","X8","X9","X10"]
TH_VALUES = [[645.9],[70.0,227.14],[5.54,9.32,10.95],[0.1699,0.2887],[2.103,2.155],[10.33],[219.74],[3.604],[13.23],[19.65]]
TH_LABELS = [["645.90"],["70.00","227.14"],["5.54","9.32","10.95"],["0.17","0.29"],["2.10","2.15"],["10.33"],["219.74"],["3.60"],["13.23"],["19.65"]]
TH_LABEL_Y = [[0.006],[0.049,0.106],[0.004,0.004,0.004],[0.032,0.032],[0.031,0.031],[0.011],[0.016],[0.03],[0.004],[0.006]]
X_TICKS = [[500,750,1000,1250,1500,1750,2000,2250],[50,100,150,200,250,300,350],[0,5,10,15,20,25,30],
           [0.10,0.15,0.20,0.25,0.30,0.35,0.40,0.45],[1.4,1.6,1.8,2.0,2.2],[2,4,6,8,10],
           [200,225,250,275,300,325,350,375,400],[0,1,2,3,4,5],[0,10,20,30,40],[0,500,1000,1500,2000,2500,3000]]
Y_TICKS = [[-0.4,-0.2,0.0,0.2,0.4,0.6,0.8,1.0],[-0.25,0.0,0.25,0.5,0.75,1.0,1.25,1.5],[-0.2,-0.1,0.0,0.1,0.2],
           [-1.0,-0.5,0.0,0.5,1.0,1.5,2.0],[-1.5,-1.0,-0.5,0.0,0.5,1.0,1.5,2.0],[-0.4,-0.2,0.0,0.2,0.4,0.6],
           [-0.5,0.0,0.5,1.0,1.5],[-0.5,0.0,0.5,1.0,1.5,2.0,2.5],[-0.1,0.0,0.1,0.2,0.3,0.4],[-0.3,-0.2,-0.1,0.0,0.1,0.2,0.3]]

# ------------------------------------------------------------------ style
FONT = "Liberation Serif"
RED, BLUE, PURPLE = "#e8401e", "#2850a8", "#6a51a8"
FILL_DOMAIN = ["Positive effect", "Negative effect", "95% confidence interval"]
FILL_RANGE = ["rgba(108,190,100,0.32)", "rgba(240,140,140,0.2)", "rgba(238,120,95,0.38)"]
SWATCH = "M-1,-0.46H1V0.46H-1Z"
W, H = 826, 729
X_DOM = [[444,2293],[0.8,359.7],[-0.78,32.89],[0.0956,0.4625],[1.353,2.275],[0.457,11.43],[189.7,409.1],[-0.289,5.992],[-2.218,45.93],[-156.9,3251.6]]
Y_DOM = [[-0.527,1.028],[-0.342,1.72],[-0.287,0.238],[-1.302,2.329],[-1.735,2.49],[-0.551,0.761],[-0.838,1.873],[-0.692,2.946],[-0.1855,0.4297],[-0.3869,0.3679]]
X_FMT = ["d","d","d",".2f",".1f","d","d","d","d","d"]
Y_FMT = [".1f",".2f",".1f",".1f",".1f",".1f",".1f",".1f",".1f",".1f"]
LEGEND_POS = [dict(orient="top-right", offset=14)]*4 + [dict(orient="bottom-left", offset=15)]*2 + \
             [dict(orient="top-right", offset=14), dict(orient="none", legendX=18, legendY=302),
              dict(orient="bottom-right", offset=15), dict(orient="top-right", offset=14)]
LETTER_POS = [(-89,59),(-116,61),(-115,58),(-128,74),(-80,-31),(-105,-27),(-76,-30),(-125,-34),(-89,-12),(-126,-36)]
TH_ALIGN = {("b",1): "right"}

i_pts = [(x, y) for x, ys in I_COLS.items() for y in ys]
PTS = [A_PTS, B_PTS, C_PTS, D_PTS, E_PTS, F_PTS, G_PTS, H_PTS, i_pts, J_PTS]
LINES = [(A_LX,A_LY),(B_LX,B_LY),(C_LX,C_LY),(D_LX,D_LY),(E_LX,E_LY),(F_LX,F_LY),(G_LX,G_LY),(H_LX,H_LY),(I_LX,I_LY),(J_LX,J_LY)]
CIS = [(A_CX,A_CLO,A_CHI),(B_CX,B_CLO,B_CHI),(C_CX,C_CLO,C_CHI),(D_CX,D_CLO,D_CHI),(E_CX,E_CLO,E_CHI),
       (F_CX,F_CLO,F_CHI),(G_CX,G_CLO,G_CHI),(H_CX,H_CLO,H_CHI),(I_CX,I_CLO,I_CHI),(J_CX,J_CLO,J_CHI)]


def build(k):
    xs = alt.Scale(domain=X_DOM[k], nice=False, zero=False)
    ys = alt.Scale(domain=Y_DOM[k], nice=False, zero=False)
    xax = alt.Axis(values=X_TICKS[k], format=X_FMT[k], labelFlush=False)
    yax = alt.Axis(values=Y_TICKS[k], format=Y_FMT[k], labelFlush=False)

    def X(f):
        return alt.X(f"{f}:Q", scale=xs, axis=xax, title=X_TITLES[k])

    def Y(f):
        return alt.Y(f"{f}:Q", scale=ys, axis=yax, title="SHAP value")

    leg = alt.Legend(title=None, symbolType=SWATCH, symbolSize=1600, symbolStrokeWidth=0,
                     labelFont=FONT, labelFontSize=22, labelFontWeight="bold", labelColor="#111111",
                     labelOffset=15, labelLimit=0, rowPadding=4, **LEGEND_POS[k])
    fill = alt.Fill("kind:N", scale=alt.Scale(domain=FILL_DOMAIN, range=FILL_RANGE), legend=leg)

    lx, ly = LINES[k]
    eff = pd.DataFrame({
        "x": list(lx) + list(lx),
        "top": [max(v, 0.0) for v in ly] + [min(v, 0.0) for v in ly],
        "zero": 0.0,
        "kind": ["Positive effect"] * len(lx) + ["Negative effect"] * len(lx),
    })
    cx, clo, chi = CIS[k]
    ci = pd.DataFrame({"x": cx, "lo": clo, "hi": chi, "kind": "95% confidence interval"})
    pts = pd.DataFrame(PTS[k], columns=["x", "y"])
    pts["sign"] = ["pos" if v > 0 else "neg" for v in pts["y"]]
    line = pd.DataFrame({"x": lx, "y": ly})

    layers = [
        alt.Chart(eff).mark_area(interpolate="monotone").encode(x=X("x"), y=Y("top"), y2=alt.Y2("zero"), fill=fill),
        alt.Chart(ci).mark_area(interpolate="monotone").encode(x=X("x"), y=Y("lo"), y2=alt.Y2("hi"), fill=fill),
        alt.Chart(pd.DataFrame({"y": [0.0]})).mark_rule(color="#9a9a9a", strokeDash=[10, 6], strokeWidth=2.5).encode(y=Y("y")),
        alt.Chart(pd.DataFrame({"x": TH_VALUES[k]})).mark_rule(color="#b8b8b8", strokeDash=[4, 6], strokeWidth=3).encode(x=X("x")),
        alt.Chart(pts).mark_circle(size=78, opacity=0.82).encode(
            x=X("x"), y=Y("y"),
            color=alt.Color("sign:N", scale=alt.Scale(domain=["pos", "neg"], range=[RED, BLUE]), legend=None)),
        alt.Chart(line).mark_line(color=PURPLE, strokeWidth=5, interpolate="monotone", opacity=0.95).encode(x=X("x"), y=Y("y")),
    ]
    for j, (tv, tl, ty) in enumerate(zip(TH_VALUES[k], TH_LABELS[k], TH_LABEL_Y[k])):
        al = TH_ALIGN.get((LETTERS[k], j), "left")
        layers.append(
            alt.Chart(pd.DataFrame({"x": [tv], "y": [ty], "t": [tl]})).mark_text(
                align=al, baseline="alphabetic", dx=(11 if al == "left" else -20),
                font=FONT, fontSize=23, fontWeight="bold", color="#111111"
            ).encode(x=X("x"), y=Y("y"), text="t:N"))
    layers.append(
        alt.Chart(pd.DataFrame({"t": [R2_TEXT[k]]})).mark_text(
            align="left", baseline="alphabetic", font=FONT, fontSize=22, fontWeight="bold", color="#111111"
        ).encode(x=alt.value(41), y=alt.value(55), text="t:N"))
    lxp, lyp = LETTER_POS[k]
    layers.append(
        alt.Chart(pd.DataFrame({"t": [LETTERS[k]]})).mark_text(
            align="left", baseline="alphabetic", font=FONT, fontSize=92, color="#000000"
        ).encode(x=alt.value(lxp), y=alt.value(lyp), text="t:N"))
    return alt.layer(*layers).properties(width=W, height=H)


def blank():
    return alt.Chart(pd.DataFrame({"v": [0]})).mark_point(opacity=0).encode(
        x=alt.X("v:Q", axis=None), y=alt.Y("v:Q", axis=None)
    ).properties(width=W, height=H, view=alt.ViewBackground(stroke="transparent"))


panels = [build(k) for k in range(10)]
cells = panels[:8] + [panels[8], blank(), blank(), panels[9]]

chart = alt.concat(*cells, columns=4, spacing={"row": 122, "column": 203}, bounds="flush").resolve_scale(
    x="independent", y="independent", color="independent", fill="independent"
).resolve_legend(color="independent", fill="independent").properties(
    padding={"left": 22, "top": 14, "right": 10, "bottom": 10}, background="white"
).configure_view(stroke="#333333", strokeWidth=2).configure_axis(
    labelFont=FONT, labelFontSize=22, labelFontWeight="bold", labelColor="#1a1a1a",
    titleFont=FONT, titleFontSize=30, titleFontWeight="bold", titleColor="#1a1a1a",
    tickSize=6, tickWidth=1.5, tickColor="#333333", domain=False, grid=False, labelPadding=3
).configure_axisX(titlePadding=8).configure_axisY(titlePadding=4)

chart.save("out.html", embed_options={"renderer": "svg", "actions": False})
